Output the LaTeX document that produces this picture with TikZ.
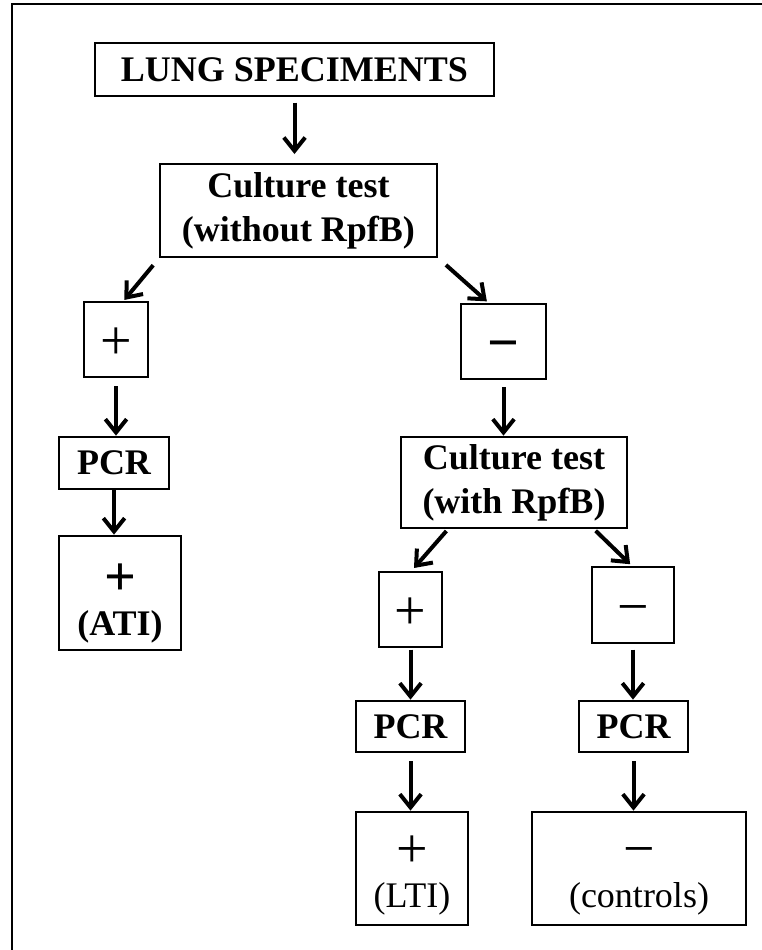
\documentclass[tikz,border=0pt]{standalone}
\usepackage{fontspec}
\setmainfont{Liberation Serif}
\usetikzlibrary{arrows.meta}
\newcommand{\signsize}{\fontsize{42}{42}\selectfont}
\begin{document}
\begin{tikzpicture}[x=0.75pt,y=-0.75pt,inner sep=0pt,outer sep=0pt,
flowbox/.style 2 args={draw,rectangle,line width=1.2pt,align=center,minimum width=#1*0.75pt,minimum height=#2*0.75pt,font=\bfseries\fontsize{27}{33}\selectfont},
signbox/.style={text height=30pt,text depth=0pt},
arr/.style={line width=3pt,-{Straight Barb[length=10pt,width=16pt]},shorten >=1pt}]
\useasboundingbox (0,0) rectangle (762,950);
\draw[line width=1.8pt] (12,950) |- (762,4);
\draw (294.5,69.5) node[flowbox={399}{53}] (lung) {LUNG SPECIMENTS};
\draw (298.5,210.5) node[flowbox={277}{93}] (cultA) {Culture test\\(without RpfB)};
\draw (116,339.5) node[flowbox={64}{75},signbox] (posA) {\mdseries\signsize +};
\draw (503.5,341.5) node[flowbox={85}{75},signbox] (negA) {\signsize −};
\draw (114,463) node[flowbox={110}{52}] (pcrA) {PCR};
\draw (120,593) node[flowbox={122}{114}] (ati) {{\signsize\rule{0pt}{39pt}+}\\[-3pt](ATI)};
\draw (514,482.5) node[flowbox={226}{91}] (cultB) {Culture test\\(with RpfB)};
\draw (410.5,609.5) node[flowbox={63}{75},signbox] (posB) {\mdseries\signsize +};
\draw (633,605) node[flowbox={82}{76},signbox] (negB) {\mdseries\signsize −};
\draw (410.5,726.5) node[flowbox={109}{51}] (pcrB) {PCR};
\draw (633.5,726.5) node[flowbox={109}{51}] (pcrC) {PCR};
\draw (412,868.5) node[flowbox={112}{113}] (lti) {\mdseries{\signsize\rule{0pt}{34pt}+}\\[-3pt]\mdseries(LTI)};
\draw (639,868.5) node[flowbox={214}{113}] (ctrl) {\mdseries{\signsize\rule{0pt}{34pt}−}\\[-3pt]\mdseries(controls)};
\draw[arr,shorten <=5pt,shorten >=7.5pt] (lung) -- (lung |- cultA.north);
\draw[arr,shorten <=8pt,shorten >=2pt] (cultA.south west) -- (posA.80);
\draw[arr,shorten <=9pt,shorten >=3pt] (cultA.south east) -- (negA.110);
\draw[arr,shorten <=7pt] (posA) -- (posA |- pcrA.north);
\draw[arr] (pcrA) -- (pcrA |- ati.north);
\draw[arr,shorten <=6pt] (negA) -- (negA |- cultB.north);
\draw[arr,shorten <=3pt,shorten >=4pt] (cultB.215) -- (posB.north);
\draw[arr,shorten <=3pt,shorten >=3pt] (cultB.-30) -- (negB.north);
\draw[arr,shorten <=2pt] (posB) -- (posB |- pcrB.north);
\draw[arr,shorten <=5pt] (negB) -- (negB |- pcrC.north);
\draw[arr,shorten <=7pt] (pcrB) -- (pcrB |- lti.north);
\draw[arr,shorten <=7pt] (pcrC) -- (pcrC |- ctrl.north);
\end{tikzpicture}
\end{document}
